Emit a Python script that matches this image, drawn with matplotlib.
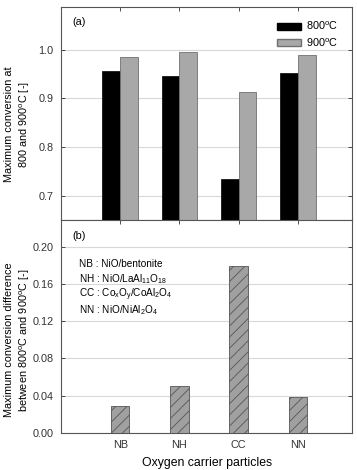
import numpy as np
import matplotlib
matplotlib.use("Agg")
import matplotlib.pyplot as plt
from matplotlib.patches import Patch

plt.rcParams['font.family'] = ['Liberation Sans', 'DejaVu Sans']
plt.rcParams['mathtext.fontset'] = 'custom'
plt.rcParams['mathtext.rm'] = 'Liberation Sans'
plt.rcParams['mathtext.it'] = 'Liberation Sans:italic'
plt.rcParams['hatch.linewidth'] = 0.6

# data
carriers = ["NB", "NH", "CC", "NN"]
conv_800 = [0.957, 0.946, 0.735, 0.952]
conv_900 = [0.986, 0.996, 0.914, 0.990]
conv_diff = [0.029, 0.050, 0.179, 0.038]
materials = [
    "NB : NiO/bentonite",
    r"NH : NiO/LaAl$_{11}$O$_{18}$",
    r"CC : Co$_\mathrm{x}$O$_\mathrm{y}$/CoAl$_2$O$_4$",
    r"NN : NiO/NiAl$_2$O$_4$",
]

fs = 7.8
spine_col = "#555555"
grid_col = "#d8d8d8"

fig = plt.figure(figsize=(3.57, 4.70), dpi=100)
ax1 = fig.add_axes([0.171, 0.532, 0.816, 0.453])
ax2 = fig.add_axes([0.171, 0.0794, 0.816, 0.4526])

x = np.arange(1, len(carriers) + 1)
w = 0.3

# (a) maximum conversion
ax1.bar(x - w / 2, conv_800, w, color="black", edgecolor="black", linewidth=0.5, zorder=3)
ax1.bar(x + w / 2, conv_900, w, color="#a8a8a8", edgecolor="#707070", linewidth=0.6, zorder=3)
ax1.set_ylim(0.65, 1.088)
ax1.set_yticks([0.7, 0.8, 0.9, 1.0])
ax1.set_yticklabels(["0.7", "0.8", "0.9", "1.0"])
ax1.set_ylabel("Maximum conversion at\n800 and 900$^\\mathrm{o}$C [-]", fontsize=7.8, linespacing=1.35)
ax1.yaxis.set_label_coords(-0.1, 0.45)
ax1.text(0.04, 0.93, "(a)", transform=ax1.transAxes, fontsize=fs, va="center")
handles = [Patch(facecolor="black", edgecolor="black"),
           Patch(facecolor="#a8a8a8", edgecolor="#707070")]
ax1.legend(handles, ["800$^\\mathrm{o}$C", "900$^\\mathrm{o}$C"], loc="upper right",
           bbox_to_anchor=(0.985, 0.985), frameon=False, fontsize=fs,
           handlelength=2.2, handleheight=0.6, handletextpad=0.5, labelspacing=0.35)

# (b) difference
ax2.bar(x, conv_diff, 0.31, color="#a0a0a0", edgecolor="#555555", linewidth=0.6,
        hatch="///", zorder=3)
ax2.set_ylim(0, 0.229)
ax2.set_yticks([0.0, 0.04, 0.08, 0.12, 0.16, 0.20])
ax2.set_yticklabels(["0.00", "0.04", "0.08", "0.12", "0.16", "0.20"])
ax2.set_ylabel("Maximum conversion difference\nbetween 800$^\\mathrm{o}$C and 900$^\\mathrm{o}$C [-]",
               fontsize=7.8, linespacing=1.35)
ax2.yaxis.set_label_coords(-0.1, 0.436)
ax2.set_xlabel("Oxygen carrier particles", fontsize=8.8, labelpad=5)
ax2.text(0.04, 0.925, "(b)", transform=ax2.transAxes, fontsize=fs, va="center")
for i, m in enumerate(materials):
    ax2.text(0.06, 0.792 - i * 0.072, m, transform=ax2.transAxes, fontsize=fs - 0.6, va="center")

for ax in (ax1, ax2):
    ax.set_xlim(0, 4.92)
    ax.set_xticks(x)
    ax.yaxis.grid(True, color=grid_col, linewidth=0.8, zorder=0)
    ax.set_axisbelow(True)
    ax.tick_params(direction="in", top=True, right=True, length=3, width=0.6,
                   labelsize=fs, colors="#333333", pad=5.5)
    for s in ax.spines.values():
        s.set_color(spine_col)
        s.set_linewidth(0.8)

ax1.set_xticklabels([])
ax2.set_xticklabels(carriers)

fig.savefig("out.png", dpi=100)
